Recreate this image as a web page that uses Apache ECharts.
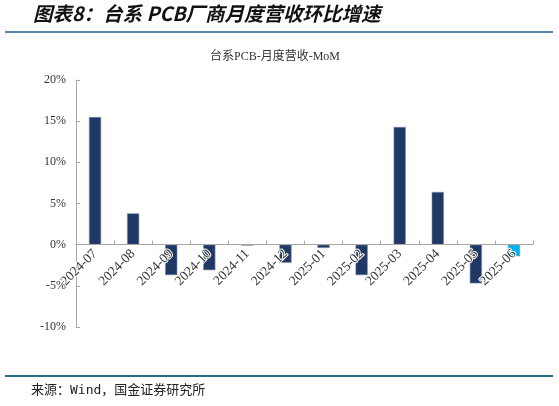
<!DOCTYPE html>
<html>
<head>
<meta charset="utf-8">
<script src="https://cdn.jsdelivr.net/npm/echarts@6/dist/echarts.min.js"></script>
<style>
  html, body { margin: 0; padding: 0; background: #fff; }
  #chart { width: 559px; height: 406px; }
</style>
</head>
<body>
<div id="chart"></div>
<script>
// months on the x axis
var months = ['2024-07', '2024-08', '2024-09', '2024-10', '2024-11', '2024-12',
              '2025-01', '2025-02', '2025-03', '2025-04', '2025-05', '2025-06'];
// month-on-month revenue growth, %
var mom = [15.5, 3.8, -3.7, -3.1, -0.1, -2.2, -0.4, -3.7, 14.3, 6.4, -4.7, -1.4];
// y axis range
var yTicks = { min: -10, max: 20, step: 5 };

var serif = '"Liberation Serif", "Noto Sans CJK SC", serif';
var darkBlue = '#1f3864';
var lastBlue = '#00b0f0';

var gridTop = 80, gridBottom = 79;
var plotH = 406 - gridTop - gridBottom;
// move the category axis up to the 0% line
var zeroOffset = -plotH * (0 - yTicks.min) / (yTicks.max - yTicks.min);

var barData = mom.map(function (v, i) {
    return {
        value: v,
        itemStyle: { color: i === mom.length - 1 ? lastBlue : darkBlue }
    };
});

var myChart = echarts.init(document.getElementById('chart'));
var option = {
    backgroundColor: '#fff',
    animation: false,
    title: {
        text: '台系PCB-月度营收-MoM',
        left: 270,
        textAlign: 'center',
        top: 46,
        textStyle: { fontFamily: serif, fontSize: 12, fontWeight: 'normal', color: '#333' }
    },
    graphic: [
        {
            type: 'text', left: 33, top: 4,
            style: {
                text: '图表8：台系 PCB厂商月度营收环比增速',
                font: 'italic bold 19.5px "Noto Sans CJK SC", sans-serif',
                fill: '#111'
            }
        },
        {
            type: 'line',
            shape: { x1: 5, y1: 32, x2: 553, y2: 32 },
            style: { stroke: '#1f5f8b', lineWidth: 1.5 }
        },
        {
            type: 'line',
            shape: { x1: 5, y1: 376, x2: 553, y2: 376 },
            style: { stroke: '#2a6a88', lineWidth: 2 }
        },
        {
            type: 'text', left: 31, top: 384,
            style: {
                text: '来源：Wind，国金证券研究所',
                font: '13px "DejaVu Sans Mono", "Noto Sans CJK SC", monospace',
                fill: '#222'
            }
        }
    ],
    grid: { left: 76, right: 26, top: gridTop, bottom: gridBottom },
    xAxis: {
        type: 'category',
        data: months,
        offset: zeroOffset,
        z: 5,
        axisLine: { onZero: false, lineStyle: { color: '#a6a6a6' } },
        axisTick: { show: true, inside: true, length: 4, lineStyle: { color: '#a6a6a6' } },
        axisLabel: {
            rotate: 45, interval: 0, margin: 7,
            fontFamily: serif, fontSize: 13.5, color: '#333',
            textBorderColor: '#fff', textBorderWidth: 2
        }
    },
    yAxis: {
        type: 'value',
        min: yTicks.min,
        max: yTicks.max,
        interval: yTicks.step,
        splitLine: { show: false },
        axisLine: { show: true, lineStyle: { color: '#a6a6a6' } },
        axisTick: { show: true, inside: true, length: 4, lineStyle: { color: '#a6a6a6' } },
        axisLabel: {
            formatter: '{value}%', margin: 10,
            fontFamily: serif, fontSize: 12, color: '#333'
        }
    },
    series: [{
        type: 'bar',
        data: barData,
        barWidth: '32%',
        itemStyle: { borderColor: '#7f8fab', borderWidth: 0.6 }
    }]
};
myChart.setOption(option);
</script>
</body>
</html>
